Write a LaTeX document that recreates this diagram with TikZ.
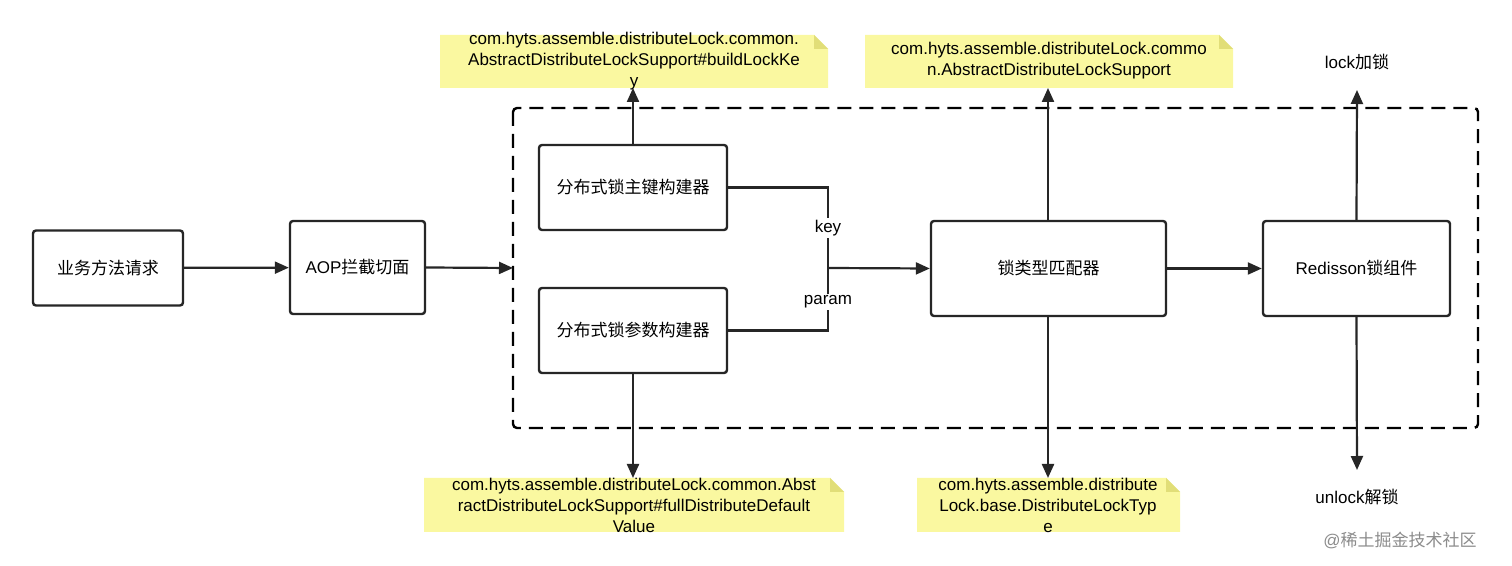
\documentclass[tikz,border=0pt]{standalone}
\usepackage{fontspec}
\setmainfont{Liberation Sans}
\newfontfamily\cjk{Noto Sans CJK SC}
\usetikzlibrary{arrows.meta}
\begin{document}
\begin{tikzpicture}[x=0.5pt,y=-0.5pt,
  box/.style={draw=black!85,line width=1.2pt,rounded corners=1.5pt,font=\fontsize{8.5}{10}\selectfont},
  arr/.style={draw=black!85,line width=1.1pt,-{Triangle[length=7pt,width=6pt]}},
  ln/.style={draw=black!85,line width=1.1pt},
  nt/.style={font=\fontsize{8.5}{10.5}\selectfont,align=center,inner sep=0pt},
  lb/.style={font=\fontsize{8.5}{10}\selectfont,fill=white,inner sep=1pt}]
\useasboundingbox (0,0) rectangle (1512,566);
\fill[white] (0,0) rectangle (1512,566);
\newcommand\notebox[4]{\fill[fill={rgb,255:red,250;green,248;blue,160}] (#1,#2) -- (#3-14,#2) -- (#3,#2+14) -- (#3,#4) -- (#1,#4) -- cycle;
 \fill[fill={rgb,255:red,225;green,222;blue,120}] (#3-14,#2) -- (#3-14,#2+14) -- (#3,#2+14) -- cycle;}
\notebox{440}{35}{828}{88}
\notebox{865}{35}{1233}{88}
\notebox{424}{478}{844}{532}
\notebox{917}{478}{1180}{532}
\node[nt] (n1) at (634,61) {com.hyts.assemble.distributeLock.common.\\AbstractDistributeLockSupport\#buildLockKe\\y};
\node[nt] (n2) at (1049,61) {com.hyts.assemble.distributeLock.commo\\n.AbstractDistributeLockSupport};
\node[nt] (n3) at (634,505) {com.hyts.assemble.distributeLock.common.Abst\\ractDistributeLockSupport\#fullDistributeDefault\\Value};
\node[nt] (n4) at (1048,505) {com.hyts.assemble.distribute\\Lock.base.DistributeLockTyp\\e};
\coordinate (t1) at (633,88); \coordinate (t2) at (1048,88); \coordinate (b1) at (633,478); \coordinate (b2) at (1048,478);
\draw[line width=1.2pt,dash pattern=on 7pt off 4pt,rounded corners=2pt] (513,108) rectangle (1478,428);
\node[box,minimum width=75pt,minimum height=37.5pt] (req) at (108,268) {\cjk 业务方法请求};
\node[box,minimum width=67.5pt,minimum height=46.5pt] (aop) at (357.5,267.5) {AOP{\cjk 拦截切面}};
\node[box,minimum width=94pt,minimum height=42.5pt] (key) at (633,187.5) {\cjk 分布式锁主键构建器};
\node[box,minimum width=94pt,minimum height=42.5pt] (par) at (633,330.5) {\cjk 分布式锁参数构建器};
\node[box,minimum width=117.5pt,minimum height=47.5pt] (mat) at (1048.5,268.5) {\cjk 锁类型匹配器};
\node[box,minimum width=93.5pt,minimum height=47.5pt] (red) at (1356.5,268.5) {Redisson{\cjk 锁组件}};
\coordinate (din) at (513,268);
\coordinate (j) at (828,268);
\coordinate (lk) at (1357,90); \coordinate (ul) at (1357,470);
\draw[arr] (req) -- (aop);
\draw[arr] (aop.east) -- (din);
\draw[ln] (key.east) -| (j);
\draw[ln] (par.east) -| (j);
\node[lb] at (828,228) {key};
\node[lb] at (828,302) {param};
\draw[arr] (j) -- (mat.west);
\draw[arr] (mat) -- (red);
\draw[arr] (key.north) -- (t1);
\draw[arr] (par.south) -- (b1);
\draw[arr] (mat.north -| t2) -- (t2);
\draw[arr] (mat.south -| b2) -- (b2);
\draw[arr] (red.north) -- (lk);
\draw[arr] (red.south) -- (ul);
\node[font=\fontsize{8.5}{10}\selectfont] (lt) at (1357,62) {lock{\cjk 加锁}};
\node[font=\fontsize{8.5}{10}\selectfont] (ut) at (1357,497) {unlock{\cjk 解锁}};
\node[font=\fontsize{8.5}{10}\selectfont,text=black!45] (wm) at (1400,540) {@{\cjk 稀土掘金技术社区}};
\end{tikzpicture}
\end{document}
